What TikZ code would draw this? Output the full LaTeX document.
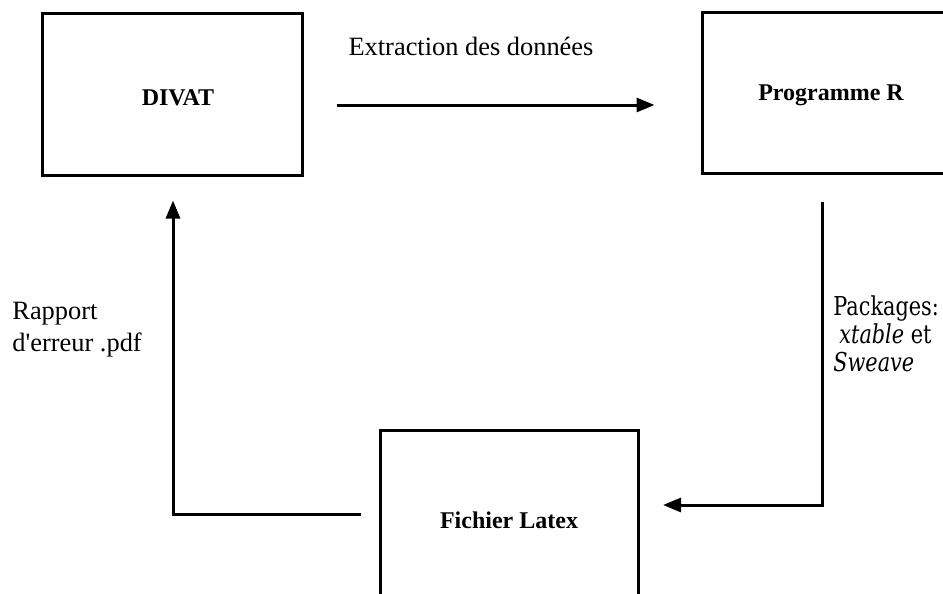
\documentclass[tikz,border=0pt]{standalone}
\usepackage{fontspec}
\setmainfont{Liberation Serif}
\newfontfamily\pkgfont{DejaVu Serif}[FakeStretch=0.8]
\usetikzlibrary{arrows.meta,calc}
\newcommand{\straightquote}{\XeTeXglyph\XeTeXglyphindex"quotesingle"\relax}
\begin{document}
\begin{tikzpicture}[x=0.5pt,y=-0.5pt,
  box/.style={draw, line width=1.5pt, inner sep=0pt, font=\fontsize{12}{14}\selectfont\bfseries},
  conn/.style={line width=1.5pt, -{Triangle[length=9pt,width=7pt]}},
  lbl/.style={inner sep=0pt, font=\fontsize{13.2}{16}\selectfont, align=left}]
\useasboundingbox (0,0) rectangle (943,594);
\node[box, minimum width=130pt, minimum height=81pt, text height=11pt, text depth=0pt] (divat) at (172,94) {\hspace*{6pt}DIVAT};
\node[box, minimum width=129pt, minimum height=80.5pt, text height=11pt, text depth=3pt] (prog) at (831,92.5) {Programme R};
\node[box, minimum width=129pt, minimum height=90pt] (fich) at (509,520) {Fichier Latex};
\draw[conn] ($(divat.east)+(33,11)$) -- ($(prog.west)+(-46,12.5)$);
\draw[conn] ($(prog.south)+(-9,27)$) |- ($(fich.east)+(23.5,-15)$);
\draw[conn] ($(fich.west)+(-18,-6)$) -| ($(divat.south)+(1,24)$);
\node[lbl, anchor=base] (ext) at (471,55) {Extraction des données};
\node[lbl, anchor=north west] (rap) at (12,302) {Rapport\\d\straightquote erreur .pdf};
\node[lbl, anchor=north west, font=\pkgfont\fontsize{13}{14}\selectfont] (pkg) at (833,295) {Packages:\\\hspace*{3pt}\textit{xtable} et\\\textit{Sweave}};
\end{tikzpicture}
\end{document}
